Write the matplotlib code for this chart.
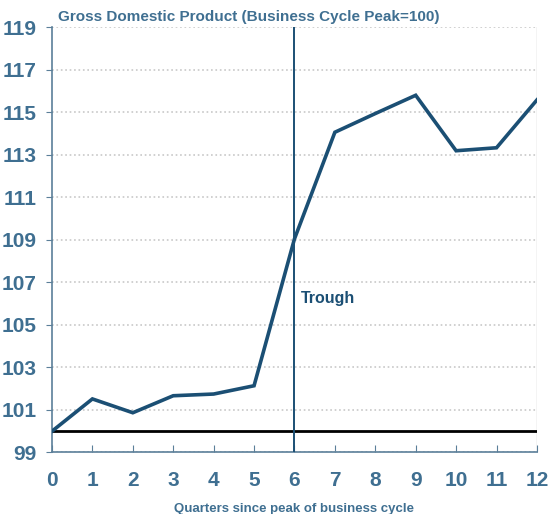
import numpy as np
import matplotlib.pyplot as plt

#%% data
quarters = [0, 1, 2, 3, 4, 5, 6, 7, 8, 9, 10, 11, 12]
gdp = [100.0, 101.52, 100.87, 101.67, 101.75, 102.14, 109.05,
       114.07, 114.95, 115.81, 113.2, 113.34, 115.59]
trough_q = 6
yticks = list(range(99, 120, 2))

line_col = '#1b4f74'
text_col = '#3f6f91'

plt.rcParams['font.family'] = ['Liberation Sans', 'DejaVu Sans']

#%% plot
fig = plt.figure(figsize=(5.49, 5.14), dpi=100)
ax = fig.add_axes([0.0947, 0.1197, 0.8833, 0.8268])

ax.plot(quarters, gdp, color=line_col, lw=2.6, solid_joinstyle='miter', zorder=4)
ax.axhline(100, color='black', lw=2, zorder=3)
ax.axvline(trough_q, color=line_col, lw=1.4, zorder=3)
ax.text(trough_q + 0.17, 106.25, 'Trough', color=line_col, fontsize=11.5,
        fontweight='bold', va='center')

ax.set_xlim(0, 12)
ax.set_ylim(99, 119)
ax.set_xticks(quarters)
ax.set_yticks(yticks)
ax.yaxis.grid(True, color='#c8c8c8', ls=':', lw=1.2)
ax.set_axisbelow(True)

for s in ['top', 'right']:
    ax.spines[s].set_visible(False)
ax.spines['left'].set_color('#5b7f99')
ax.spines['bottom'].set_color('#5b7f99')
ax.spines['left'].set_linewidth(1.2)
ax.spines['bottom'].set_linewidth(1.2)
ax.axvline(12, color='#c8c8c8', lw=1, zorder=1)

ax.tick_params(axis='x', direction='in', length=5, color='#5b7f99', pad=13,
               labelsize=15, labelcolor=text_col)
ax.tick_params(axis='y', direction='out', length=4, color='#5b7f99', pad=7,
               labelsize=15, labelcolor=text_col)
for lab in ax.get_xticklabels() + ax.get_yticklabels():
    lab.set_fontweight('bold')

ax.set_xlabel('Quarters since peak of business cycle', color=text_col,
              fontsize=9.5, fontweight='bold', labelpad=10)
fig.text(0.106, 0.953, 'Gross Domestic Product (Business Cycle Peak=100)',
         color=text_col, fontsize=11, fontweight='bold', va='bottom')

plt.savefig('out.png', dpi=100)
